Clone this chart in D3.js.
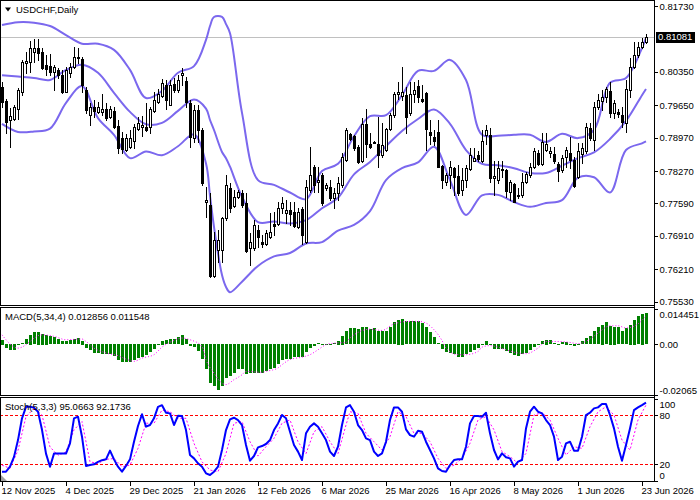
<!DOCTYPE html>
<html>
<head>
<meta charset="utf-8">
<script src="https://cdn.jsdelivr.net/npm/d3@7"></script>
<style>
    body { margin: 0; background: #fff; }
    text { font-family: "Liberation Sans", Arial, sans-serif; font-size: 9.5px; fill: #000; }
</style>
</head>
<body>
<svg id="chart" width="700" height="500"></svg>
<script>
"use strict";

// x axis labels (bar index -> date)
const dateBars = [0, 16, 32, 48, 64, 80, 96, 112, 128, 144, 160];
const dateLabels = ["12 Nov 2025", "4 Dec 2025", "29 Dec 2025", "21 Jan 2026", "12 Feb 2026",
    "6 Mar 2026", "25 Mar 2026", "16 Apr 2026", "8 May 2026", "1 Jun 2026", "23 Jun 2026"];

// USDCHF daily candles
const open = [
    0.8004, 0.7974, 0.7934, 0.7936, 0.7957, 0.7993, 0.8053, 0.8055, 0.8077, 0.8084,
    0.8076, 0.8049, 0.8048, 0.8035, 0.8039, 0.8028, 0.7993, 0.8033, 0.8046, 0.8067,
    0.8061, 0.7997, 0.7944, 0.7961, 0.7951, 0.7951, 0.7958, 0.7941, 0.7953, 0.7921,
    0.7896, 0.7871, 0.7878, 0.7890, 0.7915, 0.7919, 0.7920, 0.7920, 0.7953, 0.7972,
    0.7984, 0.8007, 0.7965, 0.8009, 0.7997, 0.8028, 0.8016, 0.7969, 0.7896, 0.7955,
    0.7913, 0.7761, 0.7756, 0.7607, 0.7661, 0.7661, 0.7728, 0.7791, 0.7754, 0.7773,
    0.7780, 0.7759, 0.7665, 0.7665, 0.7703, 0.7679, 0.7674, 0.7688, 0.7716, 0.7716,
    0.7749, 0.7740, 0.7745, 0.7742, 0.7710, 0.7747, 0.7679, 0.7787, 0.7836, 0.7803,
    0.7819, 0.7791, 0.7794, 0.7770, 0.7780, 0.7798, 0.7850, 0.7905, 0.7900, 0.7878,
    0.7847, 0.7926, 0.7884, 0.7887, 0.7884, 0.7861, 0.7871, 0.7915, 0.7944, 0.7988,
    0.7984, 0.7986, 0.7948, 0.7988, 0.8005, 0.7977, 0.7991, 0.7909, 0.7899, 0.7909,
    0.7838, 0.7805, 0.7819, 0.7833, 0.7817, 0.7787, 0.7808, 0.7831, 0.7849, 0.7861,
    0.7847, 0.7902, 0.7902, 0.7812, 0.7808, 0.7831, 0.7829, 0.7784, 0.7799, 0.7777,
    0.7777, 0.7805, 0.7819, 0.7836, 0.7864, 0.7842, 0.7871, 0.7865, 0.7863, 0.7842,
    0.7829, 0.7856, 0.7865, 0.7850, 0.7814, 0.7863, 0.7868, 0.7917, 0.7893, 0.7961,
    0.7974, 0.7982, 0.7995, 0.7948, 0.7950, 0.7944, 0.7927, 0.7997, 0.8046, 0.8070,
    0.8086, 0.8098];
const high = [
    0.8014, 0.7978, 0.7959, 0.7965, 0.8001, 0.8060, 0.8077, 0.8100, 0.8103, 0.8103,
    0.8084, 0.8070, 0.8072, 0.8049, 0.8043, 0.8039, 0.8046, 0.8053, 0.8088, 0.8084,
    0.8067, 0.8004, 0.7969, 0.7976, 0.7972, 0.7988, 0.7969, 0.7963, 0.7961, 0.7934,
    0.7909, 0.7905, 0.7913, 0.7926, 0.7941, 0.7942, 0.7969, 0.7961, 0.7993, 0.8000,
    0.8019, 0.8018, 0.8018, 0.8021, 0.8028, 0.8042, 0.8025, 0.7976, 0.7965, 0.7965,
    0.7917, 0.7794, 0.7780, 0.7700, 0.7703, 0.7731, 0.7819, 0.7801, 0.7787, 0.7787,
    0.7787, 0.7780, 0.7696, 0.7724, 0.7714, 0.7693, 0.7703, 0.7738, 0.7742, 0.7763,
    0.7773, 0.7766, 0.7763, 0.7763, 0.7749, 0.7752, 0.7808, 0.7878, 0.7840, 0.7836,
    0.7822, 0.7801, 0.7808, 0.7791, 0.7815, 0.7864, 0.7917, 0.7906, 0.7903, 0.7882,
    0.7938, 0.7958, 0.7906, 0.7890, 0.7941, 0.7927, 0.7917, 0.7948, 0.7993, 0.8014,
    0.8046, 0.8004, 0.8014, 0.8014, 0.8018, 0.8007, 0.7993, 0.7934, 0.7913, 0.7935,
    0.7840, 0.7822, 0.7847, 0.7836, 0.7840, 0.7833, 0.7840, 0.7875, 0.7875, 0.7868,
    0.7913, 0.7924, 0.7917, 0.7847, 0.7847, 0.7847, 0.7831, 0.7808, 0.7801, 0.7791,
    0.7822, 0.7825, 0.7843, 0.7875, 0.7871, 0.7907, 0.7906, 0.7878, 0.7878, 0.7845,
    0.7861, 0.7878, 0.7899, 0.7857, 0.7885, 0.7885, 0.7927, 0.7927, 0.7972, 0.7988,
    0.7997, 0.8004, 0.8014, 0.7976, 0.7958, 0.7962, 0.8018, 0.8063, 0.8098, 0.8098,
    0.8105, 0.8114];
const low = [
    0.7961, 0.7907, 0.7878, 0.7934, 0.7936, 0.7986, 0.8033, 0.8035, 0.8056, 0.8060,
    0.8040, 0.8028, 0.8028, 0.7997, 0.8022, 0.7990, 0.7992, 0.8025, 0.8042, 0.8053,
    0.7993, 0.7948, 0.7924, 0.7941, 0.7948, 0.7944, 0.7934, 0.7938, 0.7917, 0.7865,
    0.7864, 0.7868, 0.7875, 0.7875, 0.7913, 0.7900, 0.7911, 0.7906, 0.7951, 0.7969,
    0.7982, 0.7956, 0.7965, 0.7993, 0.7993, 0.8007, 0.7962, 0.7878, 0.7888, 0.7888,
    0.7798, 0.7731, 0.7605, 0.7605, 0.7636, 0.7637, 0.7724, 0.7742, 0.7752, 0.7770,
    0.7752, 0.7658, 0.7630, 0.7661, 0.7668, 0.7668, 0.7672, 0.7686, 0.7693, 0.7714,
    0.7738, 0.7717, 0.7714, 0.7710, 0.7707, 0.7675, 0.7677, 0.7784, 0.7784, 0.7784,
    0.7756, 0.7787, 0.7766, 0.7749, 0.7766, 0.7794, 0.7847, 0.7892, 0.7871, 0.7843,
    0.7845, 0.7857, 0.7875, 0.7885, 0.7836, 0.7857, 0.7868, 0.7913, 0.7941, 0.7979,
    0.7976, 0.7906, 0.7944, 0.7972, 0.7972, 0.7972, 0.7871, 0.7884, 0.7882, 0.7835,
    0.7791, 0.7798, 0.7791, 0.7777, 0.7777, 0.7777, 0.7794, 0.7829, 0.7847, 0.7847,
    0.7845, 0.7884, 0.7805, 0.7777, 0.7801, 0.7815, 0.7773, 0.7766, 0.7761, 0.7770,
    0.7773, 0.7801, 0.7815, 0.7833, 0.7840, 0.7840, 0.7870, 0.7857, 0.7843, 0.7807,
    0.7825, 0.7836, 0.7833, 0.7794, 0.7812, 0.7843, 0.7864, 0.7892, 0.7871, 0.7958,
    0.7955, 0.7972, 0.7941, 0.7938, 0.7941, 0.7920, 0.7909, 0.7982, 0.8042, 0.8067,
    0.8084, 0.8095];
const close = [
    0.7972, 0.7930, 0.7942, 0.7961, 0.7997, 0.8055, 0.8058, 0.8084, 0.8084, 0.8074,
    0.8042, 0.8040, 0.8035, 0.8046, 0.8028, 0.7993, 0.8039, 0.8046, 0.8067, 0.8063,
    0.8007, 0.7955, 0.7962, 0.7953, 0.7962, 0.7958, 0.7939, 0.7958, 0.7920, 0.7875,
    0.7873, 0.7896, 0.7896, 0.7919, 0.7927, 0.7924, 0.7913, 0.7958, 0.7976, 0.7988,
    0.8012, 0.7976, 0.8007, 0.7997, 0.8018, 0.8032, 0.7972, 0.7898, 0.7955, 0.7913,
    0.7801, 0.7766, 0.7607, 0.7682, 0.7682, 0.7728, 0.7798, 0.7749, 0.7773, 0.7784,
    0.7756, 0.7660, 0.7679, 0.7714, 0.7689, 0.7674, 0.7696, 0.7700, 0.7712, 0.7749,
    0.7759, 0.7745, 0.7737, 0.7712, 0.7742, 0.7693, 0.7794, 0.7819, 0.7798, 0.7808,
    0.7759, 0.7798, 0.7770, 0.7780, 0.7801, 0.7857, 0.7913, 0.7895, 0.7875, 0.7845,
    0.7926, 0.7884, 0.7878, 0.7886, 0.7861, 0.7882, 0.7915, 0.7944, 0.7988, 0.7993,
    0.7993, 0.7941, 0.7988, 0.7997, 0.7982, 0.7974, 0.7915, 0.7902, 0.7890, 0.7836,
    0.7808, 0.7819, 0.7836, 0.7815, 0.7780, 0.7808, 0.7833, 0.7861, 0.7854, 0.7852,
    0.7890, 0.7913, 0.7812, 0.7817, 0.7833, 0.7829, 0.7786, 0.7803, 0.7761, 0.7775,
    0.7805, 0.7821, 0.7836, 0.7869, 0.7842, 0.7888, 0.7884, 0.7868, 0.7847, 0.7828,
    0.7854, 0.7871, 0.7850, 0.7796, 0.7868, 0.7875, 0.7920, 0.7896, 0.7961, 0.7976,
    0.7982, 0.7998, 0.7948, 0.7969, 0.7946, 0.7930, 0.7998, 0.8046, 0.8070, 0.8086,
    0.8098, 0.81081];

// Bollinger bands, read at these bars
const bbBars = [0, 4, 8, 12, 16, 20, 24, 28, 32, 36, 40, 44, 48, 51, 52, 53, 55, 56, 57, 60,
    64, 68, 72, 76, 80, 84, 88, 92, 96, 100, 104, 108, 112, 116, 120, 124, 128, 132, 136, 140,
    144, 148, 152, 156, 160, 161];
const bbUpper = [0.8133, 0.8139, 0.8138, 0.8131, 0.8112, 0.8094, 0.8094, 0.8081, 0.8039, 0.7980,
    0.7995, 0.8033, 0.8047, 0.8102, 0.8131, 0.8150, 0.8150, 0.8135, 0.8116, 0.7949,
    0.7808, 0.7798, 0.7782, 0.7768, 0.7827, 0.7842, 0.7900, 0.7942, 0.7944, 0.7986,
    0.8037, 0.8037, 0.8060, 0.8018, 0.7903, 0.7901, 0.7903, 0.7903, 0.7888, 0.7905,
    0.7896, 0.7913, 0.8012, 0.8022, 0.8085, 0.8106];
const bbMiddle = [0.8028, 0.8025, 0.8022, 0.8018, 0.8039, 0.8050, 0.8033, 0.7991, 0.7951, 0.7925,
    0.7928, 0.7953, 0.7977, 0.7958, 0.7934, 0.7913, 0.7867, 0.7854, 0.7836, 0.7773,
    0.7720, 0.7721, 0.7717, 0.7724, 0.7749, 0.7771, 0.7820, 0.7846, 0.7879, 0.7911,
    0.7936, 0.7956, 0.7926, 0.7871, 0.7842, 0.7839, 0.7833, 0.7823, 0.7823, 0.7838,
    0.7854, 0.7866, 0.7894, 0.7932, 0.7986, 0.7999];
const bbLower = [0.7926, 0.7909, 0.7910, 0.7916, 0.7970, 0.8005, 0.7938, 0.7903, 0.7854, 0.7868,
    0.7860, 0.7879, 0.7904, 0.7843, 0.7775, 0.7710, 0.7609, 0.7584, 0.7573, 0.7595,
    0.7628, 0.7648, 0.7655, 0.7675, 0.7678, 0.7702, 0.7714, 0.7743, 0.7808, 0.7833,
    0.7845, 0.7878, 0.7808, 0.7735, 0.7776, 0.7777, 0.7762, 0.7752, 0.7760, 0.7766,
    0.7813, 0.7814, 0.7782, 0.7871, 0.7885, 0.7889];

// MACD(5,34,4)
const macdMain = [
    0.0019, -0.0015, -0.0024, -0.0024, -0.0001, 0.0005, 0.0022, 0.0039, 0.0049, 0.0052,
    0.0043, 0.0039, 0.0033, 0.0029, 0.0022, 0.0012, 0.0012, 0.0016, 0.0022, 0.0026,
    0.0015, -0.0015, -0.0024, -0.0035, -0.0038, -0.0042, -0.0042, -0.0042, -0.0049, -0.0065,
    -0.0073, -0.0073, -0.0073, -0.0065, -0.0056, -0.0052, -0.0046, -0.0033, -0.0019, 0.0003,
    0.0015, 0.0016, 0.0022, 0.0022, 0.0030, 0.0039, 0.0022, -0.0008, -0.0011, -0.0029,
    -0.0062, -0.0100, -0.0158, -0.0171, -0.0189, -0.0171, -0.0137, -0.0130, -0.0117, -0.0103,
    -0.0103, -0.0124, -0.0120, -0.0117, -0.0117, -0.0117, -0.0110, -0.0103, -0.0096, -0.0083,
    -0.0065, -0.0060, -0.0060, -0.0052, -0.0052, -0.0052, -0.0033, -0.0015, -0.0008, 0.0005,
    0.0001, 0.0003, -0.0001, 0.0005, 0.0015, 0.0035, 0.0055, 0.0067, 0.0067, 0.0062,
    0.0071, 0.0071, 0.0062, 0.0067, 0.0053, 0.0053, 0.0053, 0.0071, 0.0090, 0.0100,
    0.0105, 0.0094, 0.0094, 0.0094, 0.0094, 0.0087, 0.0071, 0.0049, 0.0030, 0.0005,
    -0.0022, -0.0033, -0.0035, -0.0042, -0.0052, -0.0052, -0.0042, -0.0033, -0.0024, -0.0015,
    -0.0005, 0.0015, -0.0005, -0.0019, -0.0019, -0.0019, -0.0029, -0.0035, -0.0046, -0.0049,
    -0.0042, -0.0035, -0.0024, -0.0011, 0.0003, 0.0012, 0.0019, 0.0016, 0.0005, 0.0003,
    0.0008, 0.0011, 0.0003, -0.0008, 0.0003, 0.0012, 0.0026, 0.0033, 0.0053, 0.0071,
    0.0080, 0.0090, 0.0076, 0.0073, 0.0071, 0.0053, 0.0067, 0.0080, 0.0100, 0.0114,
    0.0125, 0.012856];
const macdSignalBars = [0, 4, 10, 13, 16, 20, 21, 23, 26, 29, 31, 33, 35, 38, 40, 43, 45, 47, 50, 51,
    53, 55, 56, 58, 60, 61, 65, 66, 69, 70, 72, 75, 77, 79, 81, 83, 86, 87, 92, 95,
    98, 102, 104, 106, 108, 110, 111, 114, 116, 119, 120, 122, 124, 126, 129, 131, 134, 136, 139, 142,
    144, 147, 149, 152, 154, 156, 159, 161];
const macdSignal = [0.0039, -0.0015, 0.0039, 0.0033, 0.0019, 0.0022, 0.0012, -0.0015, -0.0035, -0.0046,
    -0.0060, -0.0069, -0.0056, -0.0042, -0.0011, 0.0016, 0.0026, 0.0019, -0.0008, -0.0062,
    -0.0117, -0.0158, -0.0164, -0.0144, -0.0124, -0.0110, -0.0114, -0.0110, -0.0096, -0.0083,
    -0.0062, -0.0052, -0.0042, -0.0022, -0.0001, 0.0005, 0.0008, 0.0026, 0.0062, 0.0057,
    0.0084, 0.0094, 0.0094, 0.0087, 0.0060, 0.0016, -0.0015, -0.0042, -0.0042, -0.0029,
    -0.0011, -0.0005, -0.0011, -0.0022, -0.0035, -0.0038, -0.0015, 0.0012, 0.0012, 0.0008,
    0.0003, 0.0022, 0.0046, 0.0076, 0.0076, 0.0067, 0.0084, 0.011548];

// Stochastic(5,3,3)
const stochMain = [
    11, 11, 17, 29, 49.5, 76, 90, 90, 89, 84,
    62, 33, 17, 33, 33, 33, 33, 45.5, 76, 78,
    53.6, 18, 19, 20, 23, 25, 26, 36.6, 26, 17,
    11, 18, 26, 47.5, 66.6, 81, 65.8, 67.8, 76, 90,
    92, 82.8, 82, 67.8, 79.1, 78.7, 61.7, 31.3, 27.2, 21.2,
    17.1, 9, 7, 11, 17.1, 37.4, 61.7, 74.7, 76.7, 73.9,
    67.8, 43.5, 24.4, 30.1, 40.6, 42.2, 44.7, 49.5, 61.7, 69.8,
    80, 76, 59.7, 43.5, 35.4, 25.2, 57.7, 65.8, 69.8, 65.8,
    57.7, 49.5, 35.4, 30.1, 41.4, 67.8, 89.3, 92, 84, 67.8,
    61.7, 51.6, 49.5, 35.4, 30.1, 33.3, 47.5, 73.9, 89.3, 89.3,
    84, 62.5, 55.6, 53.6, 60.9, 59.7, 47.5, 37.4, 27.2, 15.1,
    11.8, 11, 19.1, 25.2, 26, 26, 41.4, 69.8, 78.7, 78.7,
    77.9, 82.8, 57.7, 37.4, 26, 33.3, 28.5, 27.2, 17.1, 23.2,
    25.2, 63.7, 84, 90.1, 84, 82, 73.9, 67.8, 53.6, 25.2,
    29.3, 45.5, 47.5, 36.6, 36.6, 53.6, 80, 82.8, 88.1, 89.3,
    93.3, 93.3, 80, 63.7, 41.4, 24.4, 43.5, 63.7, 86, 89.3,
    92, 95.0663];
const stochSignalBars = [0, 2, 4, 6, 8, 10, 12, 14, 16, 18, 20, 22, 24, 26, 28, 30, 32, 34, 36, 38,
    40, 42, 44, 46, 48, 50, 52, 54, 56, 58, 60, 62, 64, 66, 68, 70, 72, 74, 76, 78,
    80, 82, 84, 86, 87, 89, 91, 93, 95, 97, 99, 101, 103, 105, 107, 109, 111, 113, 115, 117,
    119, 121, 123, 125, 127, 129, 131, 133, 135, 137, 139, 141, 143, 145, 147, 149, 151, 153, 155, 157,
    159, 161];
const stochSignal = [19, 15, 37, 78, 88, 80, 41, 31, 35, 62, 72, 23, 21, 26, 27, 17, 19, 39.4, 70, 70,
    86, 84, 76, 76, 45.5, 23, 13, 11, 33, 70, 72, 47.5, 30, 41.4, 51.6, 70, 74, 47.5, 33, 59.7,
    65.8, 47.5, 33, 67.8, 84, 82, 57.7, 47.5, 37.4, 53.6, 84, 78, 57.7, 57.7, 47.5, 27.2, 15, 19, 27.2, 45.5,
    74, 78, 62, 35.4, 29.3, 21.2, 33.3, 80, 82.8, 74, 51.6, 31.3, 41.4, 39.4, 65.8, 84, 90, 80, 49.5, 37.4,
    74, 92.1736];

const priceTicks = [0.81730, 0.80350, 0.79650, 0.78970, 0.78270, 0.77590, 0.76910, 0.76210, 0.75530];
const macdTicks = [0.014451, 0, -0.02065];
const stochTicks = [100, 80, 20, 0];
const stochLevels = [80, 20];
const lastPrice = 0.81081;

////////// layout //////////

const axisX = 654;
const panels = [
    { name: "main", top: 0, bottom: 305 },
    { name: "macd", top: 307, bottom: 395 },
    { name: "stoch", top: 397, bottom: 481 }
];

const svg = d3.select("#chart");

const x = d3.scaleLinear().domain([0, open.length - 1]).range([2, 646]);
const yPrice = d3.scaleLinear().domain([0.75530, 0.81730]).range([301.7, 6]);
const yMacd = d3.scaleLinear().domain([-0.02065, 0.014451]).range([395, 309]);
const yStoch = d3.scaleLinear().domain([0, 100]).range([480.7, 398.6]);

const px = v => Math.round(v) + 0.5;

// clip each panel
const defs = svg.append("defs");
panels.forEach(p => {
    defs.append("clipPath").attr("id", "clip-" + p.name)
        .append("rect")
        .attr("x", 1).attr("y", p.top + 1)
        .attr("width", axisX - 1).attr("height", p.bottom - p.top - 1);
});

// frames
const frame = svg.append("g").attr("stroke", "#000").attr("shape-rendering", "crispEdges");
panels.forEach(p => {
    frame.append("line").attr("x1", 0).attr("x2", axisX).attr("y1", px(p.top)).attr("y2", px(p.top));
    frame.append("line").attr("x1", 0).attr("x2", axisX).attr("y1", px(p.bottom)).attr("y2", px(p.bottom));
    frame.append("line").attr("x1", 0.5).attr("x2", 0.5).attr("y1", p.top).attr("y2", p.bottom);
});
frame.append("line").attr("x1", axisX + 0.5).attr("x2", axisX + 0.5).attr("y1", 0).attr("y2", 482);

////////// main chart //////////

const main = svg.append("g").attr("clip-path", "url(#clip-main)");

main.append("line")
    .attr("x1", 0).attr("x2", axisX)
    .attr("y1", px(yPrice(lastPrice))).attr("y2", px(yPrice(lastPrice)))
    .attr("stroke", "#c0c0c0")
    .attr("shape-rendering", "crispEdges");

const bbLine = vals => d3.line()
    .x((d, i) => x(bbBars[i]))
    .y(d => yPrice(d))
    .curve(d3.curveCatmullRom)(vals);

main.selectAll("path.bb")
    .data([bbUpper, bbMiddle, bbLower])
    .enter()
    .append("path")
    .attr("class", "bb")
    .attr("d", bbLine)
    .attr("fill", "none")
    .attr("stroke", "#7b68ee")
    .attr("stroke-width", 2);

const candles = d3.range(open.length).map(i => ({ i: i, o: open[i], h: high[i], l: low[i], c: close[i] }));

const candleG = main.append("g").attr("shape-rendering", "crispEdges");

candleG.selectAll("line")
    .data(candles)
    .enter()
    .append("line")
    .attr("x1", d => px(x(d.i)))
    .attr("x2", d => px(x(d.i)))
    .attr("y1", d => Math.round(yPrice(d.h)))
    .attr("y2", d => Math.round(yPrice(d.l)) + 1)
    .attr("stroke", "#000");

candleG.selectAll("rect")
    .data(candles)
    .enter()
    .append("rect")
    .attr("x", d => Math.round(x(d.i)) - 0.5)
    .attr("y", d => px(yPrice(Math.max(d.o, d.c))))
    .attr("width", 2)
    .attr("height", d => Math.max(0, Math.round(yPrice(Math.min(d.o, d.c))) - Math.round(yPrice(Math.max(d.o, d.c)))))
    .attr("fill", d => d.c >= d.o ? "#fff" : "#000")
    .attr("stroke", "#000");

// title
svg.append("path")
    .attr("d", "M5,7.5 L11,7.5 L8,11.5 Z")
    .attr("fill", "#000");
svg.append("text").attr("x", 16).attr("y", 12.5).text("USDCHF,Daily");

////////// MACD //////////

const macdG = svg.append("g").attr("clip-path", "url(#clip-macd)");

macdG.append("g")
    .attr("shape-rendering", "crispEdges")
    .selectAll("rect")
    .data(macdMain)
    .enter()
    .append("rect")
    .attr("x", (d, i) => Math.round(x(i)) - 1)
    .attr("width", 3)
    .attr("y", d => Math.round(Math.min(yMacd(0), yMacd(d))))
    .attr("height", d => Math.max(1, Math.round(Math.abs(yMacd(d) - yMacd(0)))))
    .attr("fill", "#008000");

macdG.append("path")
    .datum(macdSignal)
    .attr("d", d3.line()
        .x((d, i) => x(macdSignalBars[i]))
        .y(d => yMacd(d))
        .curve(d3.curveMonotoneX))
    .attr("fill", "none")
    .attr("stroke", "#ff00ff")
    .attr("stroke-width", 1)
    .attr("stroke-dasharray", "1,2");

svg.append("text").attr("x", 5).attr("y", 320)
    .text("MACD(5,34,4) " + macdMain[macdMain.length - 1].toFixed(6) + " " + macdSignal[macdSignal.length - 1].toFixed(6));

////////// Stochastic //////////

const stochG = svg.append("g").attr("clip-path", "url(#clip-stoch)");

stochG.selectAll("line.level")
    .data(stochLevels)
    .enter()
    .append("line")
    .attr("class", "level")
    .attr("x1", 0).attr("x2", axisX)
    .attr("y1", d => px(yStoch(d))).attr("y2", d => px(yStoch(d)))
    .attr("stroke", "#ff0000")
    .attr("stroke-dasharray", "3,2")
    .attr("shape-rendering", "crispEdges");

stochG.append("path")
    .datum(stochSignal)
    .attr("d", d3.line()
        .x((d, i) => x(stochSignalBars[i]))
        .y(d => yStoch(d)))
    .attr("fill", "none")
    .attr("stroke", "#ff00ff")
    .attr("stroke-width", 1)
    .attr("stroke-dasharray", "2,2");

stochG.append("path")
    .datum(stochMain)
    .attr("d", d3.line()
        .x((d, i) => x(i))
        .y(d => yStoch(d)))
    .attr("fill", "none")
    .attr("stroke", "#0000ff")
    .attr("stroke-width", 2)
    .attr("stroke-linejoin", "round");

svg.append("path")
    .attr("d", "M1,475 L1,481 L7,481 Z")
    .attr("fill", "#a0a0a0");

svg.append("text").attr("x", 5).attr("y", 409.5)
    .text("Stoch(5,3,3) " + stochMain[stochMain.length - 1].toFixed(4) + " " + stochSignal[stochSignal.length - 1].toFixed(4));

////////// axes //////////

function cleanAxis(g) {
    g.attr("font-size", null).attr("font-family", null);
    g.select(".domain").remove();
    g.selectAll(".tick line").attr("shape-rendering", "crispEdges");
}

svg.append("g")
    .attr("transform", "translate(" + (axisX + 0.5) + ",0)")
    .call(d3.axisRight(yPrice).tickValues(priceTicks).tickFormat(d3.format(".5f")).tickSize(3).tickPadding(2))
    .call(cleanAxis);

svg.append("g")
    .attr("transform", "translate(" + (axisX + 0.5) + ",0)")
    .call(d3.axisRight(yMacd).tickValues(macdTicks)
        .tickFormat(d => d === 0 ? "0.00" : (d > 0 ? d.toFixed(6) : d.toFixed(5)))
        .tickSize(3).tickPadding(2))
    .call(cleanAxis)
    .selectAll(".tick text")
    .attr("dy", d => d === macdTicks[0] ? "0.9em" : (d === macdTicks[2] ? "-0.2em" : "0.32em"));

svg.append("g")
    .attr("transform", "translate(" + (axisX + 0.5) + ",0)")
    .call(d3.axisRight(yStoch).tickValues(stochTicks).tickFormat(d3.format("d")).tickSize(3).tickPadding(2))
    .call(cleanAxis)
    .selectAll(".tick text")
    .attr("dy", d => d === 100 ? "0.9em" : (d === 0 ? "-0.25em" : "0.32em"));

// current price marker
const lastY = yPrice(lastPrice);
svg.append("rect")
    .attr("x", axisX + 2).attr("y", Math.round(lastY) - 5)
    .attr("width", 39).attr("height", 11)
    .attr("fill", "#000");
svg.append("text")
    .attr("x", axisX + 4).attr("y", lastY + 3.5)
    .style("fill", "#fff")
    .text(lastPrice.toFixed(5));

svg.append("g")
    .attr("transform", "translate(0," + (panels[2].bottom + 0.5) + ")")
    .call(d3.axisBottom(x).tickValues(dateBars).tickFormat((d, i) => dateLabels[i]).tickSize(4).tickPadding(2))
    .call(cleanAxis)
    .selectAll(".tick text")
    .attr("text-anchor", "start")
    .attr("x", -1);
</script>
</body>
</html>
